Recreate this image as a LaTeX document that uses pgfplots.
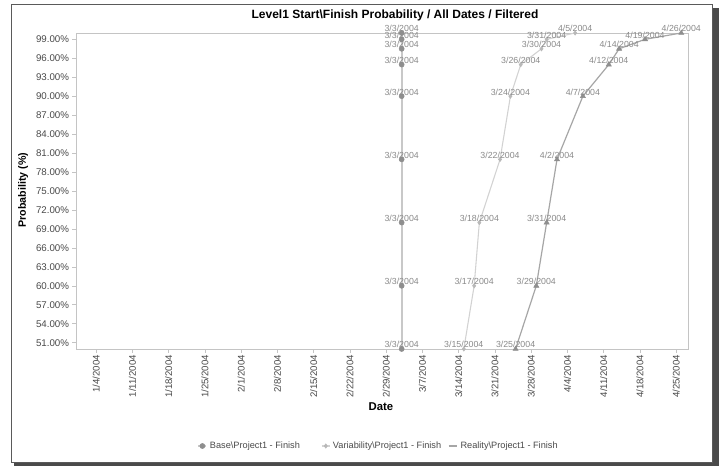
\documentclass[border=0pt]{standalone}
\usepackage{fontspec}
\setmainfont{Liberation Sans}
\usepackage{pgfplots}
\usepackage{pgfplotstable}
\pgfplotsset{compat=1.18}

\definecolor{frameC}{HTML}{5A5A5A}
\definecolor{shadowC}{HTML}{4A4A4A}
\definecolor{axisC}{HTML}{C4C4C4}
\definecolor{tickC}{HTML}{4A4A4A}
\definecolor{labC}{HTML}{8A8A8A}
\definecolor{baseLine}{HTML}{C8C8C8}
\definecolor{baseMark}{HTML}{8E8E8E}
\definecolor{varLine}{HTML}{D2D2D2}
\definecolor{varMark}{HTML}{B8B8B8}
\definecolor{realLine}{HTML}{A6A6A6}
\definecolor{realMark}{HTML}{8E8E8E}

% x = day of 2004 (1/1/2004 = 0)
\pgfplotstableread{
x y lab
62 50 3/3/2004
62 60 3/3/2004
62 70 3/3/2004
62 80 3/3/2004
62 90 3/3/2004
62 95 3/3/2004
62 97.5 3/3/2004
62 99 3/3/2004
62 100 3/3/2004
}\basedata

\pgfplotstableread{
x y lab
74 50 3/15/2004
76 60 3/17/2004
77 70 3/18/2004
81 80 3/22/2004
83 90 3/24/2004
85 95 3/26/2004
89 97.5 3/30/2004
90 99 3/31/2004
95.5 100 4/5/2004
}\vardata

\pgfplotstableread{
x y lab
84 50 3/25/2004
88 60 3/29/2004
90 70 3/31/2004
92 80 4/2/2004
97 90 4/7/2004
102 95 4/12/2004
104 97.5 4/14/2004
109 99 4/19/2004
116 100 4/26/2004
}\realdata

\begin{document}
\begin{tikzpicture}
\begin{scope}[x=0.75pt,y=-0.75pt,yshift=349.5pt]
\useasboundingbox (0,0) rectangle (719,466);
\fill[white] (0,0) rectangle (719,466);
% shadow and frame
\fill[shadowC] (713,8) rectangle (719,466);
\fill[shadowC] (14,463.5) rectangle (719,466);
\draw[frameC, line width=0.75pt] (11,5) rectangle (712,463);

\node[font=\fontsize{9}{10}\selectfont\bfseries] at (395,15) {Level1 Start\textbackslash Finish Probability / All Dates / Filtered};
\node[font=\fontsize{8}{10}\selectfont\bfseries, rotate=90] at (23,190) {Probability (\%)};
\node[font=\fontsize{8.5}{10}\selectfont\bfseries] at (381,407) {Date};
\end{scope}

\begin{axis}[
  at={(57pt,87.75pt)}, anchor=south west,
  width=459pt, height=237pt, scale only axis,
  xmin=-0.9, xmax=117.3, ymin=50, ymax=100,
  axis line style={axisC},
  tick align=outside, major tick length=3pt,
  xtick pos=bottom, ytick pos=left,
  every tick/.style={axisC},
  xtick={3,10,...,115},
  xticklabels={1/4/2004,1/11/2004,1/18/2004,1/25/2004,2/1/2004,2/8/2004,2/15/2004,2/22/2004,2/29/2004,3/7/2004,3/14/2004,3/21/2004,3/28/2004,4/4/2004,4/11/2004,4/18/2004,4/25/2004},
  xticklabel style={rotate=90, anchor=east, font=\fontsize{7.2}{8}\selectfont, text=tickC, inner sep=1.5pt},
  ytick={51,54,...,99},
  yticklabel={\pgfmathprintnumber[fixed,fixed zerofill,precision=2]{\tick}\%},
  yticklabel style={font=\fontsize{7.3}{8}\selectfont, text=tickC, inner sep=2pt},
  /pgf/number format/assume math mode=true,
  clip=false,
  nodes near coords,
  point meta=explicit symbolic,
  every node near coord/.style={font=\fontsize{6.6}{7}\selectfont, text=labC, anchor=south, inner sep=0.5pt},
  legend style={at={(0.495,-0.307)}, anchor=center, draw=none, fill=none,
    font=\fontsize{6.9}{8}\selectfont, text=tickC, legend columns=3,
    /tikz/every even column/.append style={column sep=3pt}},
  legend image code/.code={\draw[mark repeat=2,mark phase=2,#1] plot coordinates {(0pt,0pt) (3pt,0pt) (6pt,0pt)};},
]
\addplot[baseLine, line width=1.3pt, mark=*, mark size=1.9pt, mark options={fill=baseMark, draw=baseMark, line width=0.4pt}]
  table[x=x, y=y, meta=lab] {\basedata};
\addplot[varLine, line width=0.8pt, mark=diamond*, mark size=1.6pt, mark options={fill=varMark, draw=varMark, line width=0.4pt}]
  table[x=x, y=y, meta=lab] {\vardata};
\addplot[realLine, line width=0.9pt, mark=triangle*, mark size=2.2pt, mark options={fill=realMark, draw=realMark, line width=0.4pt},
  legend image code/.code={\draw[realLine, line width=1pt] (0pt,0pt) -- (6.5pt,0pt);}]
  table[x=x, y=y, meta=lab] {\realdata};
\legend{Base\textbackslash Project1 - Finish\rule{11pt}{0pt}, Variability\textbackslash Project1 - Finish, Reality\textbackslash Project1 - Finish}
\end{axis}
\end{tikzpicture}
\end{document}
